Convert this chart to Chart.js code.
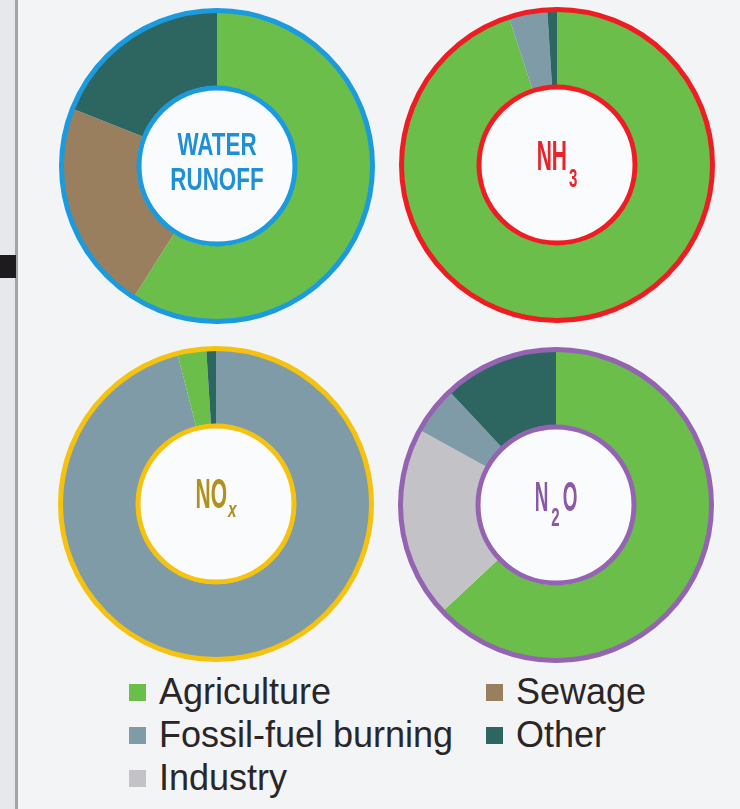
<!DOCTYPE html>
<html>
    <head>
        <meta charset="utf-8" />
        <title>Nitrogen sources</title>
        <script src="https://cdn.jsdelivr.net/npm/chart.js@4.4.1/dist/chart.umd.min.js"></script>
        <style>
            body { margin: 0; background: #f3f4f6; }
            #page { position: relative; width: 740px; height: 809px; overflow: hidden; background: #f3f4f6; }
            #strip { position: absolute; left: 0; top: 0; width: 15px; height: 809px; background: #e7e8ec; border-right: 3px solid #a3a4a8; }
            #mark { position: absolute; left: 0; top: 255px; width: 16px; height: 23px; background: #1d1b1d; }
            canvas { position: absolute; }
            #legend { position: absolute; left: 129px; top: 672px; display: grid; grid-template-columns: 357px 230px; row-gap: 3px;
                      font-family: "Liberation Sans", Arial, sans-serif; font-size: 36px; color: #2a2627; }
            .item { display: flex; align-items: center; height: 40px; white-space: nowrap; }
            .box { width: 17px; height: 17px; margin-right: 13px; flex: none; }
        </style>
    </head>
    <body>
        <div id="page">
            <div id="strip"></div>
            <div id="mark"></div>
            <canvas id="water" width="330" height="330" style="left:52px;top:1px"></canvas>
            <canvas id="nh3" width="330" height="330" style="left:392px;top:0px"></canvas>
            <canvas id="nox" width="330" height="330" style="left:51px;top:339px"></canvas>
            <canvas id="n2o" width="330" height="330" style="left:391px;top:340px"></canvas>
            <div id="legend"></div>
        </div>
        <script>
            // categories and their colours
            const categories = ["Agriculture", "Fossil-fuel burning", "Industry", "Sewage", "Other"];
            const catColors = ["#6bbe4a", "#7f9ba7", "#c3c3c7", "#9a7f5f", "#2d6661"];
            const legendOrder = ["Agriculture", "Sewage", "Fossil-fuel burning", "Other", "Industry"];

            // share of each source (%), clockwise from 12 o'clock
            const waterLabels = ["Agriculture", "Sewage", "Other"];
            const waterValues = [59, 22, 19];
            const nh3Labels = ["Agriculture", "Fossil-fuel burning", "Other"];
            const nh3Values = [95, 4, 1];
            const noxLabels = ["Fossil-fuel burning", "Agriculture", "Other"];
            const noxValues = [96, 3, 1];
            const n2oLabels = ["Agriculture", "Industry", "Fossil-fuel burning", "Other"];
            const n2oValues = [63, 20, 5, 12];

            function colorOf(name) { return catColors[categories.indexOf(name)]; }

            // rings + the label in the hole
            const centerPlugin = {
                id: "center",
                afterDatasetsDraw(chart) {
                    let cfg = chart.options.plugins.center;
                    let arc = chart.getDatasetMeta(0).data[0];
                    let cx = arc.x, cy = arc.y;
                    let ctx = chart.ctx;
                    ctx.save();
                    ctx.strokeStyle = cfg.ring;
                    ctx.lineWidth = 5;
                    ctx.beginPath();
                    ctx.arc(cx, cy, arc.outerRadius - 0.5, 0, Math.PI * 2);
                    ctx.stroke();
                    ctx.fillStyle = "#fafbfc";
                    ctx.beginPath();
                    ctx.arc(cx, cy, arc.innerRadius + 2, 0, Math.PI * 2);
                    ctx.fill();
                    ctx.beginPath();
                    ctx.arc(cx, cy, arc.innerRadius, 0, Math.PI * 2);
                    ctx.stroke();

                    ctx.fillStyle = cfg.color;
                    ctx.textBaseline = "alphabetic";
                    cfg.lines.forEach(line => {
                        let widths = line.parts.map(p => {
                            ctx.font = (p[2] || "bold") + " " + (p[1] ? cfg.sub : cfg.size) + "px 'Liberation Sans', Arial, sans-serif";
                            return ctx.measureText(p[0]).width * (p[1] ? cfg.subSx : cfg.sx);
                        });
                        let total = widths.reduce((a, b) => a + b, 0) + cfg.gap * (widths.length - 1);
                        let x = cx - total / 2;
                        let base = cy + line.dy + cfg.size * 0.358;
                        line.parts.forEach((p, i) => {
                            ctx.font = (p[2] || "bold") + " " + (p[1] ? cfg.sub : cfg.size) + "px 'Liberation Sans', Arial, sans-serif";
                            ctx.save();
                            ctx.translate(x, base + (p[1] ? cfg.subDrop : 0));
                            ctx.scale(p[1] ? cfg.subSx : cfg.sx, 1);
                            ctx.fillText(p[0], 0, 0);
                            ctx.restore();
                            x += widths[i] + cfg.gap;
                        });
                    });
                    ctx.restore();
                }
            };

            function donut(id, labels, values, center)
            {
                return new Chart(id, {
                    type: "doughnut",
                    data: {
                        labels: labels,
                        datasets: [{
                            data: values,
                            backgroundColor: labels.map(colorOf),
                            borderWidth: 0,
                            hoverBorderWidth: 0,
                            hoverOffset: 0
                        }]
                    },
                    options: {
                        responsive: false,
                        animation: false,
                        events: [],
                        radius: 156,
                        cutout: "50%",
                        layout: { padding: 0 },
                        plugins: {
                            legend: { display: false },
                            tooltip: { enabled: false },
                            center: center
                        }
                    },
                    plugins: [centerPlugin]
                });
            }

            donut("water", waterLabels, waterValues, {
                ring: "#1c9ade", color: "#1f8fd6", size: 32, sx: 0.7, sub: 20, subSx: 0.6, subDrop: 0, gap: 0,
                lines: [{ dy: -22, parts: [["WATER", 0]] }, { dy: 13, parts: [["RUNOFF", 0]] }]
            });
            donut("nh3", nh3Labels, nh3Values, {
                ring: "#ee1d24", color: "#e6242a", size: 42, sx: 0.5, sub: 25, subSx: 0.6, subDrop: 17, gap: 2,
                lines: [{ dy: -10, parts: [["NH", 0], ["3", 1]] }]
            });
            donut("nox", noxLabels, noxValues, {
                ring: "#f4c20f", color: "#b0911c", size: 42, sx: 0.5, sub: 22, subSx: 0.7, subDrop: 9, gap: 1,
                lines: [{ dy: -11, parts: [["NO", 0], ["x", 1, "italic bold"]] }]
            });
            donut("n2o", n2oLabels, n2oValues, {
                ring: "#9463b2", color: "#8b5aa6", size: 42, sx: 0.45, sub: 25, subSx: 0.6, subDrop: 15, gap: 3,
                lines: [{ dy: -9, parts: [["N", 0], ["2", 1], ["O", 0]] }]
            });

            // legend, two columns
            let legend = document.getElementById("legend");
            legendOrder.forEach(name => {
                let item = document.createElement("div");
                item.className = "item";
                let box = document.createElement("span");
                box.className = "box";
                box.style.background = colorOf(name);
                item.append(box);
                item.append(document.createTextNode(name));
                legend.append(item);
            });
        </script>
    </body>
</html>
